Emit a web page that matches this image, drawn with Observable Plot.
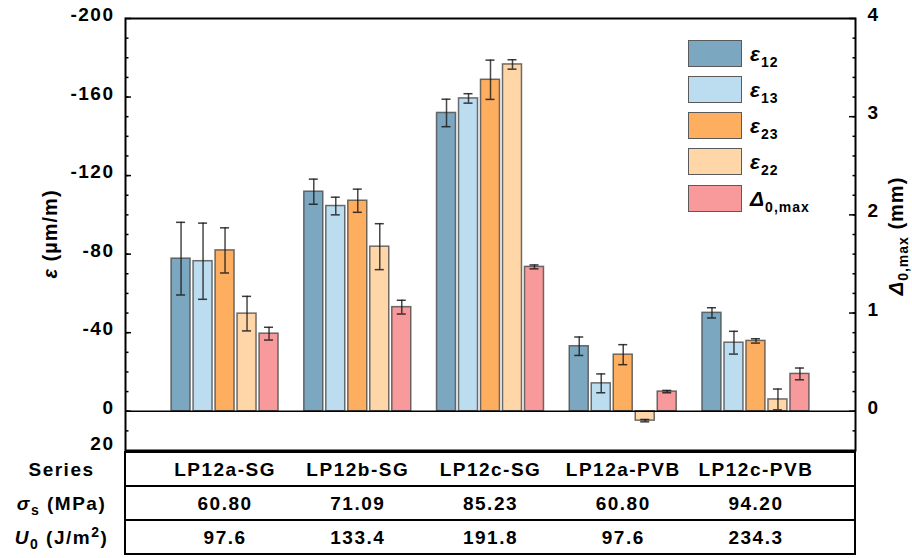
<!DOCTYPE html>
<html><head><meta charset="utf-8">
<script src="https://cdn.jsdelivr.net/npm/d3@7"></script>
<script src="https://cdn.jsdelivr.net/npm/@observablehq/plot@0.6"></script>
<style>
body{margin:0;background:#fff;}
#wrap{position:relative;width:912px;height:558px;font-family:"Liberation Sans",Arial,sans-serif;font-weight:bold;color:#000;background:#fff;}
#wrap svg{display:block;}
.legend{position:absolute;left:688px;top:39px;}
.item{display:flex;align-items:center;height:28px;margin-bottom:8.3px;}
.sw{width:52px;height:25px;border:1.5px solid #5a5a5a;box-sizing:content-box;}
.lab{margin-left:8px;font-size:21px;letter-spacing:1px;line-height:1;white-space:nowrap;}
.lab i{font-style:italic;}
.lab sub{font-size:14px;vertical-align:-6px;line-height:0;}
</style></head><body><div id="wrap"></div><script>
// ---------- data ----------
const groups = ["LP12a-SG", "LP12b-SG", "LP12c-SG", "LP12a-PVB", "LP12c-PVB"];
const seriesNames = ["ε12", "ε13", "ε23", "ε22", "Δ0,max"];
const seriesColors = ["#7ba7c1", "#bcdcf0", "#feae5f", "#fed6a8", "#f89a9b"];
const eps12 = [-77.7, -111.8, -151.9, -33.1, -50.1];
const eps12Err = [18.5, 6.4, 7.0, 4.7, 2.6];
const eps13 = [-76.4, -104.5, -159.3, -14.2, -34.9];
const eps13Err = [19.4, 4.5, 2.4, 4.8, 5.8];
const eps23 = [-81.9, -107.2, -168.8, -28.8, -35.8];
const eps23Err = [11.5, 5.9, 10.0, 5.1, 1.1];
const eps22 = [-49.7, -83.8, -176.6, 4.8, -6.0];
const eps22Err = [8.8, 11.7, 2.4, 0.6, 5.3];
const deltaMax = [0.79, 1.06, 1.47, 0.20, 0.38];      // mm (right axis)
const deltaErr = [0.065, 0.07, 0.02, 0.012, 0.06];
const sigmaS = ["60.80", "71.09", "85.23", "60.80", "94.20"];
const U0 = ["97.6", "133.4", "191.8", "97.6", "234.3"];
const tableRows = ["Series", "σs (MPa)", "U0 (J/m2)"];
const leftTickLabels = [-200, -160, -120, -80, -40, 0];
const leftBottomLabel = [20];
const rightTickLabels = [0, 1, 2, 3, 4];

// ---------- layout constants ----------
const MM = 50;                 // 1 mm on right axis = 50 µm/m on left axis (4 mm <-> -200)
const X_DOMAIN = [-0.75, groups.length - 0.25];
const STEP = 0.1657, BARW = 0.143, CAPW = 0.034;

const epsSeries = [eps12, eps13, eps23, eps22];
const epsErrs = [eps12Err, eps13Err, eps23Err, eps22Err];
const bars = [];
groups.forEach((g, i) => {
  seriesNames.forEach((s, k) => {
    const v = k < 4 ? epsSeries[k][i] : -deltaMax[i] * MM;
    const e = k < 4 ? epsErrs[k][i] : deltaErr[i] * MM;
    bars.push({g, i, k, s, v, e, xc: i + (k - 2) * STEP});
  });
});
const caps = bars.flatMap(d => [{xc: d.xc, y: d.v - d.e}, {xc: d.xc, y: d.v + d.e}]);
const minorTicks = d3.range(-190, 20, 10);
const rightMajor = rightTickLabels.map(m => -m * MM);

const baseStyle = {fontFamily: '"Liberation Sans", Arial, sans-serif', fontSize: "19px", fontWeight: "bold", letterSpacing: "1.5px", color: "#000", background: "transparent", overflow: "visible"};

const chart = Plot.plot({
  width: 912, height: 450, marginLeft: 125, marginRight: 57, marginTop: 18, marginBottom: 0,
  style: baseStyle,
  x: {domain: X_DOMAIN, axis: null},
  y: {domain: [20, -200], axis: null, label: null},
  color: {domain: seriesNames, range: seriesColors},
  marks: [
    Plot.rect(bars, {x1: d => d.xc - BARW / 2, x2: d => d.xc + BARW / 2, y1: 0, y2: "v", fill: "s", stroke: "#4a4a4a", strokeOpacity: 0.8, strokeWidth: 1.5}),
    Plot.ruleY([0], {stroke: "black", strokeWidth: 1.5}),
    Plot.ruleX(bars, {x: "xc", y1: d => d.v - d.e, y2: d => d.v + d.e, stroke: "#1a1a1a", strokeOpacity: 0.8, strokeWidth: 1.5}),
    Plot.ruleY(caps, {y: "y", x1: d => d.xc - CAPW, x2: d => d.xc + CAPW, stroke: "#1a1a1a", strokeOpacity: 0.85, strokeWidth: 1.5}),
    Plot.axisY({anchor: "left", ticks: leftTickLabels, tickSize: -6, fill: "none", strokeWidth: 1.5, label: null}),
    Plot.axisY({anchor: "left", ticks: minorTicks, tickSize: -3.5, fill: "none", strokeWidth: 1.5, label: null}),
    Plot.axisY({anchor: "left", ticks: leftTickLabels, tickSize: 0, tickPadding: 11, dy: -3.5, tickFormat: d => String(d), label: null}),
    Plot.axisY({anchor: "left", ticks: leftBottomLabel, tickSize: 0, tickPadding: 11, dy: -7, tickFormat: d => String(d), label: null}),
    Plot.axisY({anchor: "right", ticks: rightMajor, tickSize: -7, fill: "none", strokeWidth: 1.5, label: null}),
    Plot.axisY({anchor: "right", ticks: minorTicks, tickSize: -3.5, fill: "none", strokeWidth: 1.5, label: null}),
    Plot.axisY({anchor: "right", ticks: rightMajor, tickSize: 0, tickPadding: 12, dy: -3.5, tickFormat: d => String(-d / MM), label: null}),
    Plot.frame({stroke: "black", strokeWidth: 2})
  ]
});

const cells = [];
groups.forEach((g, i) => {
  cells.push({i, row: tableRows[0], t: g}, {i, row: tableRows[1], t: sigmaS[i]}, {i, row: tableRows[2], t: U0[i]});
});
const table = Plot.plot({
  width: 912, height: 108, marginLeft: 125, marginRight: 57, marginTop: 1, marginBottom: 3,
  style: baseStyle,
  x: {domain: X_DOMAIN, axis: null},
  y: {domain: tableRows, padding: 0, axis: null, label: null},
  marks: [
    Plot.barX(tableRows, {y: d => d, x1: X_DOMAIN[0], x2: X_DOMAIN[1], fill: "none", stroke: "black", strokeWidth: 2}),
    Plot.text(cells, {x: "i", y: "row", text: "t", fill: "black"}),
    Plot.axisY({anchor: "left", tickSize: 0, tickPadding: 64, textAnchor: "middle", label: null})
  ]
});

// ---------- rich text helpers ----------
function rich(el, parts) {
  el.textContent = "";
  let shift = 0;
  for (const p of parts) {
    const ts = document.createElementNS("http://www.w3.org/2000/svg", "tspan");
    ts.textContent = p.t;
    let target = p.sub ? 5 : p.sup ? -7 : 0;
    if (target !== shift) { ts.setAttribute("dy", target - shift); shift = target; }
    if (p.sub || p.sup) ts.setAttribute("font-size", p.size || 14);
    if (p.i) ts.setAttribute("font-style", "italic");
    el.appendChild(ts);
  }
}
const rowParts = {
  "Series": [{t: "Series"}],
  "σs (MPa)": [{t: "σ", i: true}, {t: "s", sub: true}, {t: " (MPa)"}],
  "U0 (J/m2)": [{t: "U", i: true}, {t: "0", sub: true}, {t: " (J/m"}, {t: "2", sup: true}, {t: ")"}]
};
d3.select(table).selectAll("g[aria-label='y-axis tick label'] text").each(function() {
  const key = this.textContent;
  if (rowParts[key]) rich(this, rowParts[key]);
});

const s1 = d3.select(chart);
function addTitle(x, y, parts) {
  const t = s1.append("text").attr("transform", `translate(${x},${y}) rotate(-90)`)
    .attr("text-anchor", "middle").attr("font-size", 20).attr("fill", "black").attr("letter-spacing", "1px");
  rich(t.node(), parts);
}
addTitle(57, 234, [{t: "ε", i: true}, {t: " (µm/m)"}]);
addTitle(903, 236, [{t: "Δ", i: true}, {t: "0,max", sub: true, size: 14}, {t: " (mm)"}]);

const wrap = document.getElementById("wrap");
wrap.appendChild(chart);
wrap.appendChild(table);

// legend
const legend = document.createElement("div");
legend.className = "legend";
seriesNames.forEach((s, k) => {
  const item = document.createElement("div");
  item.className = "item";
  const sw = document.createElement("div");
  sw.className = "sw";
  sw.style.background = seriesColors[k];
  const lab = document.createElement("div");
  lab.className = "lab";
  const sym = s[0], sub = s.slice(1);
  lab.innerHTML = `<i>${sym}</i><sub>${sub}</sub>`;
  item.appendChild(sw); item.appendChild(lab);
  legend.appendChild(item);
});
wrap.appendChild(legend);
</script></body></html>
